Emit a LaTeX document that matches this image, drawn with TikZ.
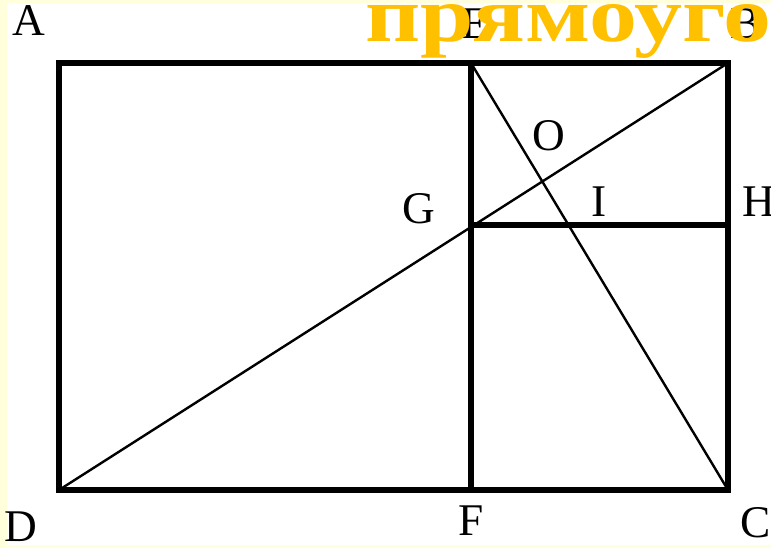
\documentclass[tikz,border=0pt]{standalone}
\usepackage{fontspec}
\setmainfont{Liberation Serif}
\usetikzlibrary{calc}
\definecolor{paper}{HTML}{FFFFDC}
\definecolor{title}{HTML}{FFC000}
\tikzset{
  edge/.style={line width=5.2pt, draw=black},
  diag/.style={line width=1.8pt, draw=black},
  lbl/.style={font=\fontsize{34}{34}\selectfont, inner sep=0pt},
  heading/.style={font=\fontsize{58}{58}\selectfont\bfseries, text=title, inner sep=0pt}
}
\begin{document}
\begin{tikzpicture}[x=0.75pt,y=-0.75pt]
  \fill[paper] (0,0) rectangle (771,548);
  \fill[white] (7,3) rectangle (771,545);
  \useasboundingbox (0,0) rectangle (771,548);

  \coordinate (A) at (59,63);
  \coordinate (B) at (728,63);
  \coordinate (C) at (728,490);
  \coordinate (D) at (59,490);
  \coordinate (E) at (471,63);
  \coordinate (F) at (471,490);
  \coordinate (G) at (471,225);
  \coordinate (H) at (728,225);

  \draw[diag] (D) -- (B);
  \draw[diag] (E) -- (C);
  \draw[edge] (A) rectangle (C);
  \draw[edge] (E) -- (F);
  \draw[edge] (G) -- (H);

  \node[lbl] (lblA) at (29,21) {A};
  \node[lbl] (lblE) at (475,24) {E};
  \node[lbl] (lblB) at (746,24) {B};
  \node[lbl] (lblG) at (419,209) {G};
  \node[lbl] (lblO) at (549,136) {O};
  \node[lbl] (lblI) at (599,202) {I};
  \node[lbl] (lblH) at (759,202) {H};
  \node[lbl] (lblD) at (21,527) {D};
  \node[lbl] (lblF) at (471,521) {F};
  \node[lbl] (lblC) at (756,523) {C};

  \node[heading, anchor=base west] (title) at (365,42)
    {\resizebox{304.5pt}{27.75pt}{прямоуго}};
\end{tikzpicture}
\end{document}
